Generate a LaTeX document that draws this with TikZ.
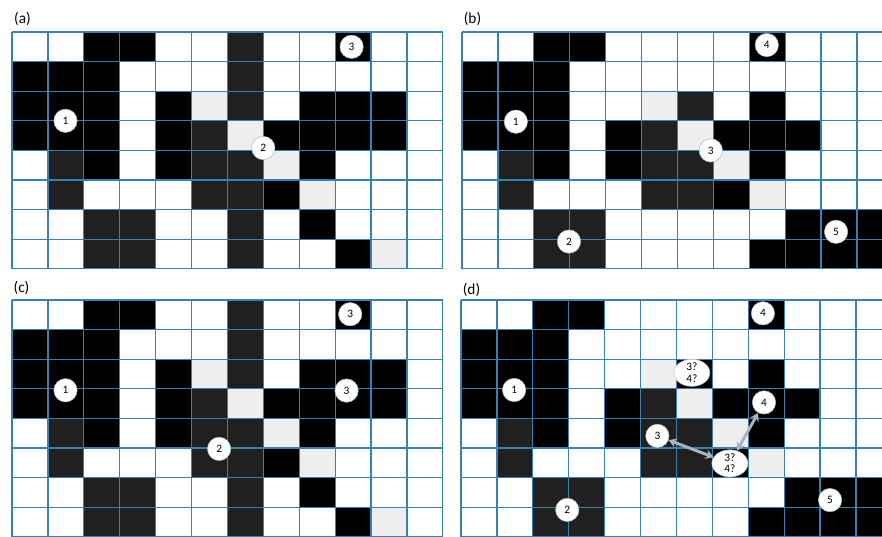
\documentclass[tikz,border=0pt]{standalone}
\usepackage{fontspec}
\setmainfont{Carlito}
\usetikzlibrary{arrows.meta,shapes.geometric}

\definecolor{gridblue}{RGB}{56,128,176}
\definecolor{darkcell}{RGB}{32,32,32}
\definecolor{lightcell}{RGB}{238,238,238}
\definecolor{arrowgray}{RGB}{168,180,192}

\begin{document}
\begin{tikzpicture}[x=0.75pt,y=-0.75pt,
  gridline/.style={draw=gridblue,line width=0.9pt},
  blk/.style={fill=black},
  drk/.style={fill=darkcell},
  lgt/.style={fill=lightcell},
  spot/.style={circle,draw=gray!55,fill=white,inner sep=0pt,minimum size=17.5pt,
    font=\fontsize{8.5}{8.5}\selectfont},
  guess/.style={ellipse,draw=gray!45,fill=white,inner sep=0pt,minimum width=27pt,
    minimum height=20pt,align=center,font=\fontsize{8.5}{8.5}\selectfont},
  duo/.style={{Stealth[length=6pt,width=7pt]}-{Stealth[length=6pt,width=7pt]},
    draw=arrowgray,line width=2.2pt},
  tag/.style={font=\fontsize{11.5}{11.5}\selectfont}]

\useasboundingbox (0,0) rectangle (882,536);
\clip (0,0) rectangle (882,536);

% panels (a) and (c): same map
\foreach \oy in {32,300} {
  \begin{scope}[shift={(12,\oy)},x=26.925pt,y=-22.2pt]
    \foreach \r/\cols in {0/{2,3,9},1/{0,1,2},2/{0,1,2,4,8,9,10},3/{0,1,2,4,7,8,9,10},
                          4/{2,4,8},5/{7},6/{8},7/{9}}
      \foreach \c in \cols \fill[blk] (\c,\r) rectangle ++(1,1);
    \foreach \r/\cols in {0/{6},1/{6},2/{6},3/{5},4/{1,5,6},5/{1,5,6},6/{2,3,6},7/{2,3,6}}
      \foreach \c in \cols \fill[drk] (\c,\r) rectangle ++(1,1);
    \foreach \c/\r in {5/2,6/3,7/4,8/5,10/7}
      \fill[lgt] (\c,\r) rectangle ++(1,1);
    \foreach \i in {0,...,12} \draw[gridline] (\i,0) -- (\i,8);
    \foreach \j in {0,...,8} \draw[gridline] (0,\j) -- (12,\j);
  \end{scope}
}

% panels (b) and (d)
\foreach \ox/\oy/\mid in {462/32/drk,461/300/blk} {
  \begin{scope}[shift={(\ox,\oy)},x=26.925pt,y=-22.2pt]
    \foreach \r/\cols in {0/{2,3,8},1/{0,1,2},2/{0,1,2,8},3/{0,1,2,4,7,8,9},
                          4/{2,4,8},5/{7},6/{9,10,11},7/{8,9,10,11}}
      \foreach \c in \cols \fill[blk] (\c,\r) rectangle ++(1,1);
    \foreach \r/\cols in {3/{5},4/{1,5,6},5/{1,5,6},6/{2,3},7/{2,3}}
      \foreach \c in \cols \fill[drk] (\c,\r) rectangle ++(1,1);
    \fill[\mid] (6,2) rectangle ++(1,1);
    \foreach \c/\r in {5/2,6/3,7/4,8/5}
      \fill[lgt] (\c,\r) rectangle ++(1,1);
    \foreach \i in {0,...,12} \draw[gridline] (\i,0) -- (\i,8);
    \foreach \j in {0,...,8} \draw[gridline] (0,\j) -- (12,\j);
  \end{scope}
}

\node[tag] (taga) at (22.5,19) {(a)};
\node[tag] (tagb) at (472.5,19) {(b)};
\node[tag] (tagc) at (21.5,288) {(c)};
\node[tag] (tagd) at (471.5,290) {(d)};

\begin{scope}[shift={(12,32)},x=26.925pt,y=-22.2pt]
  \node[spot] (a1) at (1.49,3.0) {1};
  \node[spot] (a2) at (7.0,3.92) {2};
  \node[spot] (a3) at (9.46,0.5) {3};
\end{scope}

\begin{scope}[shift={(462,32)},x=26.925pt,y=-22.2pt]
  \node[spot] (b1) at (1.5,3.03) {1};
  \node[spot] (b2) at (2.98,7.08) {2};
  \node[spot] (b3) at (6.93,4.0) {3};
  \node[spot] (b4) at (8.49,0.44) {4};
  \node[spot] (b5) at (10.42,6.75) {5};
\end{scope}

\begin{scope}[shift={(12,300)},x=26.925pt,y=-22.2pt]
  \node[spot] (c1) at (1.49,3.05) {1};
  \node[spot] (c2) at (5.77,5.03) {2};
  \node[spot] (c3) at (9.42,0.48) {3};
  \node[spot] (c3b) at (9.32,3.06) {3};
\end{scope}

\begin{scope}[shift={(461,300)},x=26.925pt,y=-22.2pt]
  \node[spot] (d1) at (1.48,3.04) {1};
  \node[spot] (d2) at (2.96,7.09) {2};
  \node[spot] (d3) at (5.47,4.59) {3};
  \node[spot] (d4) at (8.41,0.45) {4};
  \node[spot] (d4b) at (8.44,3.46) {4};
  \node[spot] (d5) at (10.28,6.76) {5};
  \node[guess] (dq1) at (6.43,2.46) {3?\\4?};
  \node[guess] (dq2) at (7.49,5.52) {3?\\4?};
\end{scope}

\draw[duo] (d3) -- (dq2);
\draw[duo] (dq2) -- (d4b);
\end{tikzpicture}
\end{document}
